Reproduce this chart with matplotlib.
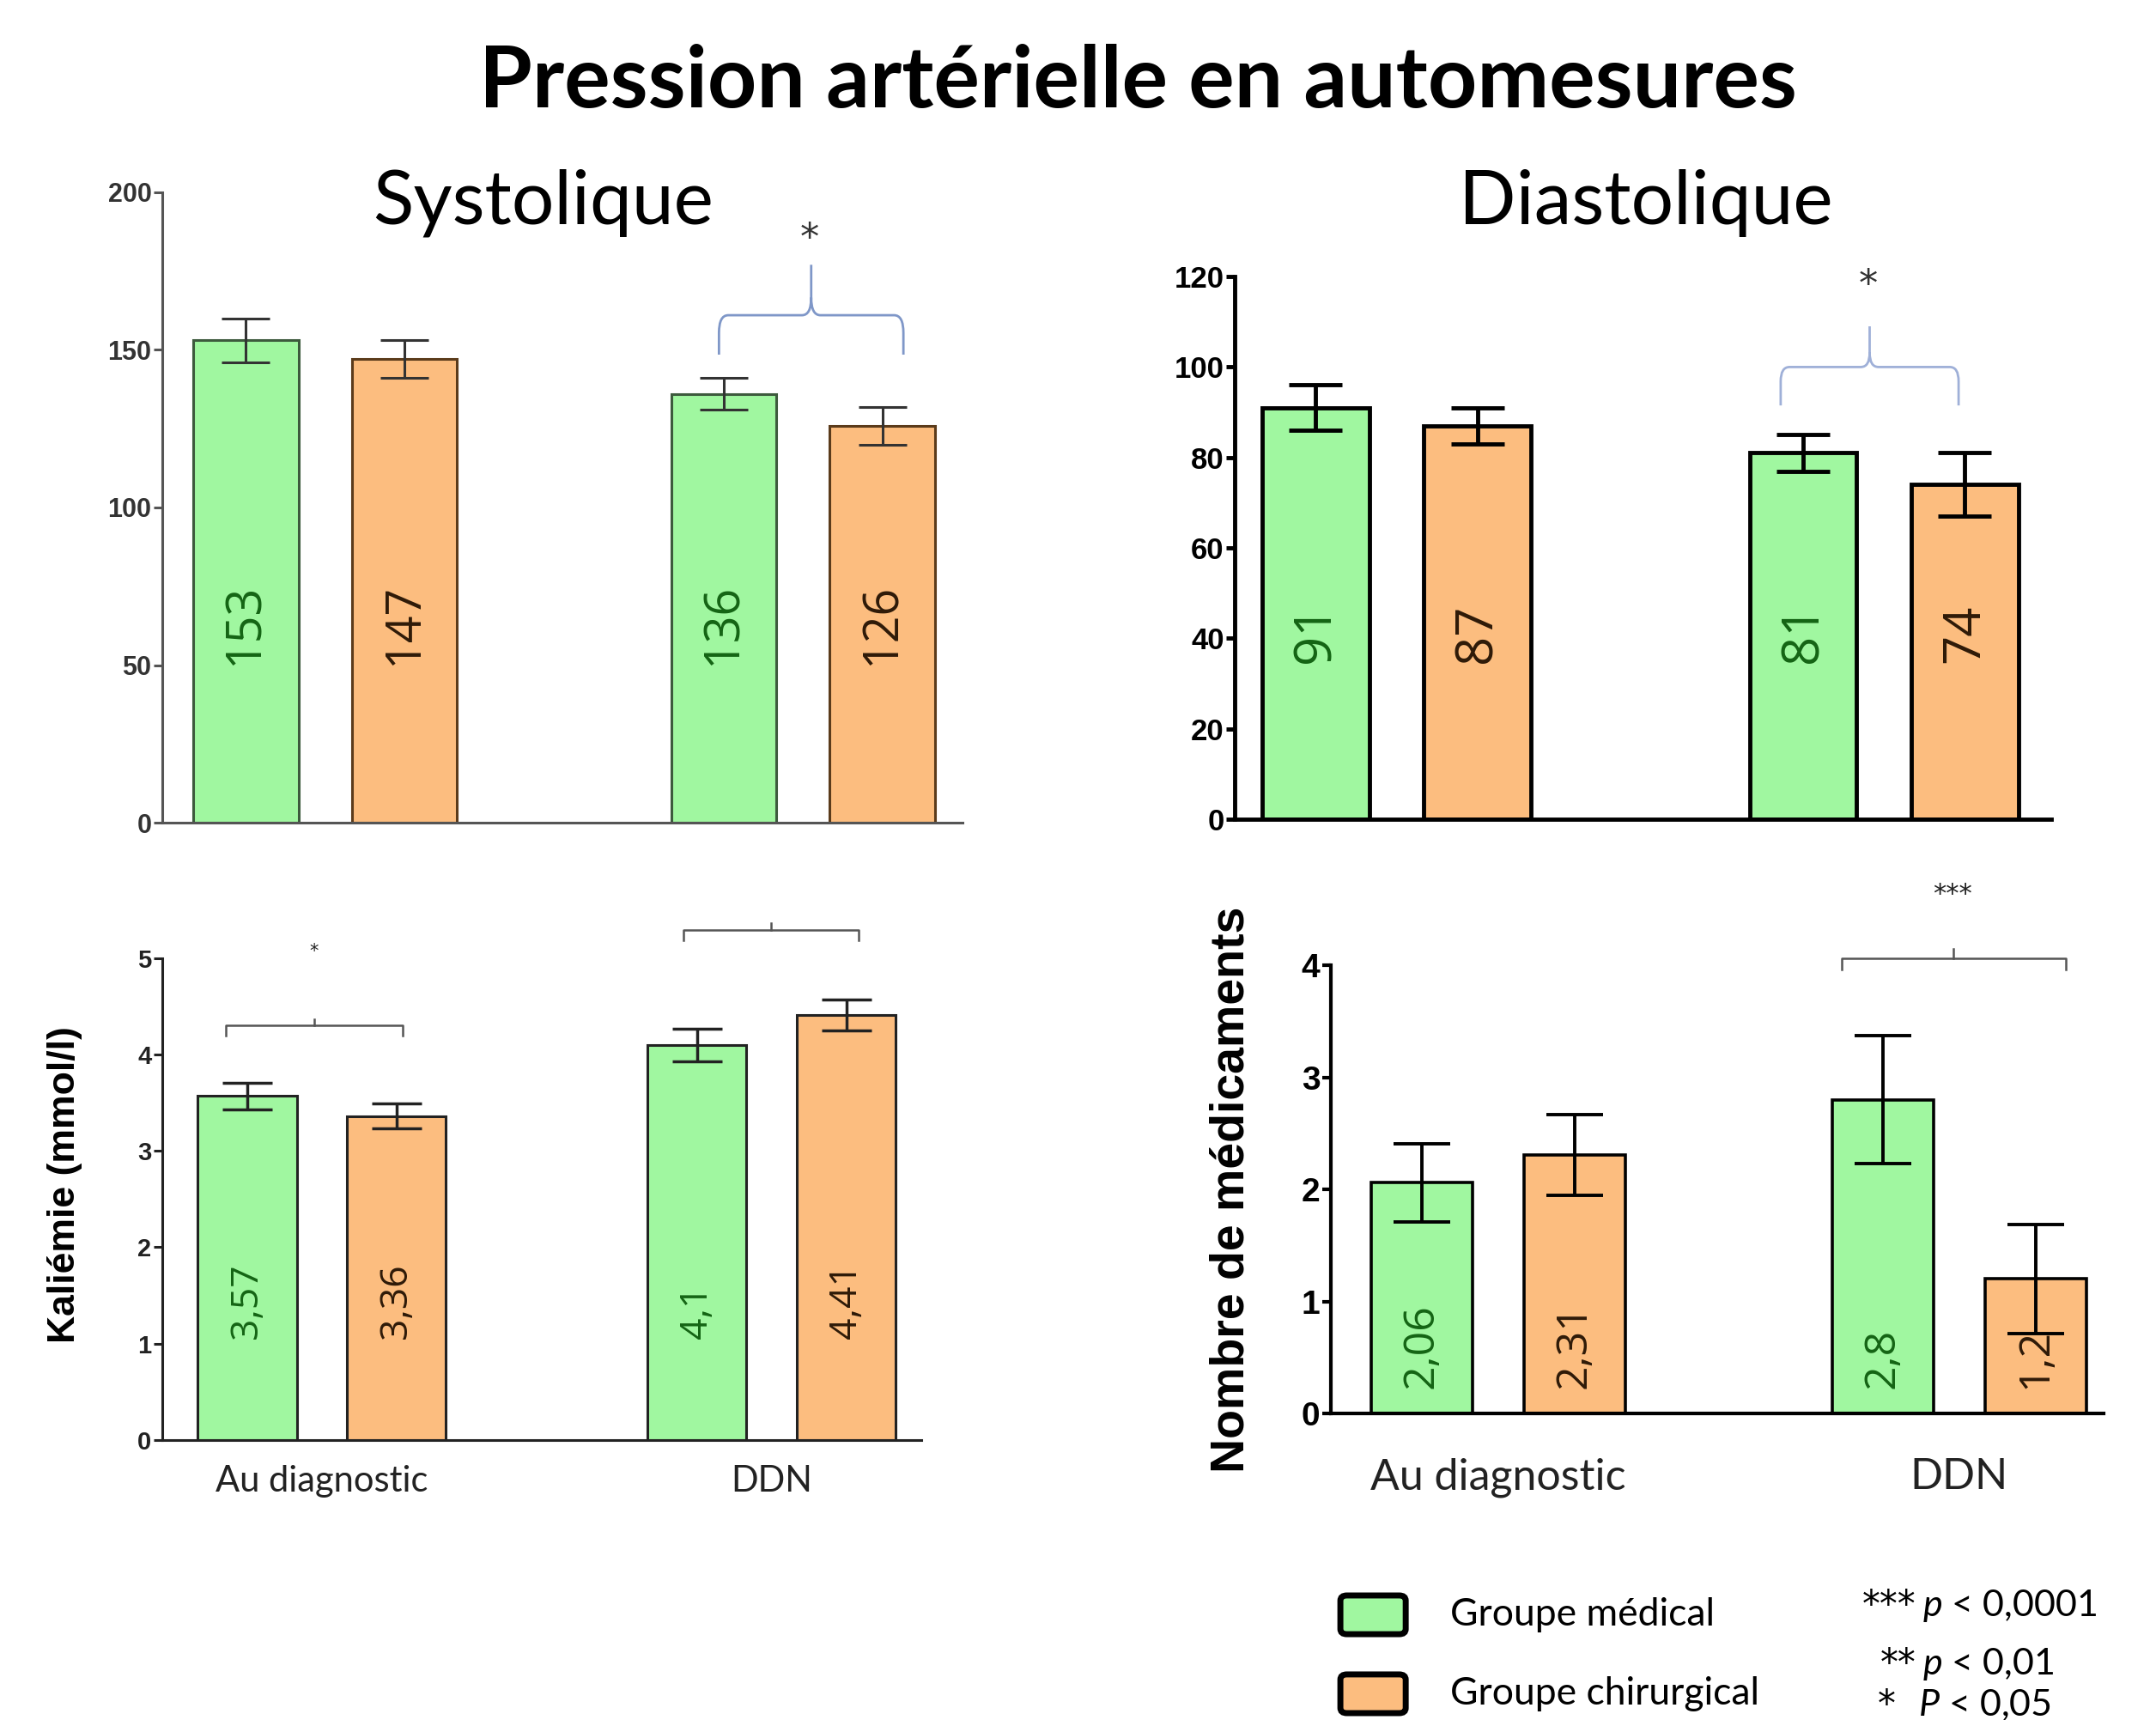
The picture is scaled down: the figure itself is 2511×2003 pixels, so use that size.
import numpy as np
import matplotlib
matplotlib.use('Agg')
import matplotlib.pyplot as plt
from matplotlib.path import Path
from matplotlib.patches import PathPatch, FancyBboxPatch

plt.rcParams['font.family'] = ['Lato', 'DejaVu Sans']
plt.rcParams['mathtext.fontset'] = 'custom'
plt.rcParams['mathtext.it'] = 'Lato:italic'
plt.rcParams['mathtext.rm'] = 'Lato'

# données
groupes = ['Au diagnostic', 'DDN']
series = ['Groupe médical', 'Groupe chirurgical']

sys_med = [153, 136]
sys_chir = [147, 126]
sys_err_med = [7, 5]
sys_err_chir = [6, 6]

dia_med = [91, 81]
dia_chir = [87, 74]
dia_err_med = [5, 4]
dia_err_chir = [4, 7]

kal_med = [3.57, 4.1]
kal_chir = [3.36, 4.41]
kal_err_med = [0.14, 0.17]
kal_err_chir = [0.13, 0.16]

nb_med = [2.06, 2.8]
nb_chir = [2.31, 1.2]
nb_err_med = [0.35, 0.57]
nb_err_chir = [0.36, 0.49]

p_etoiles = ['***', '**', '*']
p_textes = [r'$\mathit{p}$ < 0,0001', r'$\mathit{p}$ < 0,01', r'$\mathit{P}$ < 0,05']

VERT = '#a0f7a0'
ORANGE = '#fcbd7f'
TXT_VERT = '#146414'
TXT_ORANGE = '#2e1a08'
OFF = 0.166
W = 0.22
NARROW = ['Liberation Sans Narrow', 'Liberation Sans', 'DejaVu Sans']
ETOILE = ['DejaVu Sans']


def fmt(v):
    return ('%g' % v).replace('.', ',')


def panneau(ax, med, chir, err_med, err_chir, ylim, yticks, xlim, st):
    x = np.arange(len(groupes))
    for vals, errs, dx, fc, ec, tc in [(med, err_med, -OFF, VERT, st['ec_v'], TXT_VERT),
                                       (chir, err_chir, OFF, ORANGE, st['ec_o'], TXT_ORANGE)]:
        ax.bar(x + dx, vals, W, color=fc, edgecolor=ec, linewidth=st['blw'],
               yerr=errs, error_kw=dict(ecolor=st['ecol'], elinewidth=st['elw'],
                                        capsize=st['cap'], capthick=st['elw']))
        for xi, v in zip(x + dx, vals):
            ax.text(xi, st['lab_y'], fmt(v), rotation=90, ha='center', va='bottom',
                    fontsize=st['lab_fs'], color=tc, family=['Open Sans', 'DejaVu Sans'])
    ax.set_xlim(*xlim)
    ax.set_ylim(*ylim)
    ax.set_yticks(yticks)
    ax.set_xticks([])
    ax.spines['top'].set_visible(False)
    ax.spines['right'].set_visible(False)
    for s in ['left', 'bottom']:
        ax.spines[s].set_linewidth(st['slw'])
        ax.spines[s].set_color(st['scol'])
    ax.tick_params(axis='y', length=7, width=st['slw'], color=st['scol'],
                   labelsize=st['tick_fs'], labelcolor=st['tcol'], pad=2)
    for lab in ax.get_yticklabels():
        lab.set_fontweight('bold')
        lab.set_family(NARROW)
    ax.tick_params(axis='x', length=0)


def accolade(ax, x0, x1, yb, ym, yt, color, lw):
    xc = (x0 + x1) / 2
    r = (x1 - x0) * 0.05
    d = (yt - ym) * 0.35
    verts = [(x0, yb), (x0, ym - d), (x0, ym), (x0 + r, ym), (xc - r, ym), (xc, ym), (xc, ym + d), (xc, yt),
             (x1, yb), (x1, ym - d), (x1, ym), (x1 - r, ym), (xc + r, ym), (xc, ym), (xc, ym + d)]
    codes = [Path.MOVETO, Path.LINETO, Path.CURVE3, Path.CURVE3, Path.LINETO, Path.CURVE3, Path.CURVE3, Path.LINETO,
             Path.MOVETO, Path.LINETO, Path.CURVE3, Path.CURVE3, Path.LINETO, Path.CURVE3, Path.CURVE3]
    ax.add_patch(PathPatch(Path(verts, codes), fill=False, edgecolor=color, lw=lw, clip_on=False))


def crochet(ax, x0, x1, y, yb, yt, color, lw):
    xc = (x0 + x1) / 2
    ax.plot([x0, x0, x1, x1], [yb, y, y, yb], color=color, lw=lw, clip_on=False)
    ax.plot([xc, xc], [y, yt], color=color, lw=lw, clip_on=False)


fig = plt.figure(figsize=(25.11, 20.03), dpi=100)

# Systolique
ax1 = fig.add_axes([0.0753, 0.5217, 0.3712, 0.3665])
panneau(ax1, sys_med, sys_chir, sys_err_med, sys_err_chir, (0, 200), [0, 50, 100, 150, 200],
        (-0.341, 1.334),
        dict(ec_v='#3d5a3d', ec_o='#5b3b1b', blw=2.2, ecol='#333333', elw=2.2, cap=20,
             lab_y=50, lab_fs=40, slw=2.2, scol='#555555', tick_fs=22, tcol='#333333'))
accolade(ax1, 0.824, 1.21, 148.5, 161, 177, '#7f97c8', 2)
ax1.text(1.014, 185, '*', ha='center', va='center', fontsize=32, color='#333333', family=ETOILE)

# Diastolique
ax2 = fig.add_axes([0.5727, 0.5237, 0.3787, 0.3155])
panneau(ax2, dia_med, dia_chir, dia_err_med, dia_err_chir, (0, 120), [0, 20, 40, 60, 80, 100, 120],
        (-0.332, 1.343),
        dict(ec_v='black', ec_o='black', blw=3.5, ecol='black', elw=3.5, cap=22,
             lab_y=34.5, lab_fs=43, slw=3.5, scol='black', tick_fs=25, tcol='black'))
accolade(ax2, 0.788, 1.153, 91.5, 100, 109, '#9fb0d8', 2)
ax2.text(0.968, 118, '*', ha='center', va='center', fontsize=32, color='#333333', family=ETOILE)

# Kaliémie
ax3 = fig.add_axes([0.0753, 0.1628, 0.352, 0.2801])
panneau(ax3, kal_med, kal_chir, kal_err_med, kal_err_chir, (0, 5), [0, 1, 2, 3, 4, 5],
        (-0.355, 1.333),
        dict(ec_v='#222222', ec_o='#222222', blw=2.2, ecol='#222222', elw=2.5, cap=21,
             lab_y=1.05, lab_fs=32, slw=2.2, scol='#222222', tick_fs=21, tcol='#222222'))
ax3.set_xticks([0, 1])
ax3.set_xticklabels(groupes, fontsize=30, color='#222222')
ax3.tick_params(axis='x', pad=21)
ax3.set_ylabel('Kaliémie (mmol/l)', fontsize=32, fontweight='bold',
               family=['Liberation Sans', 'DejaVu Sans'])
ax3.yaxis.set_label_coords(-0.105, 0.53)
crochet(ax3, -0.214, 0.18, 4.30, 4.20, 4.37, '#555555', 1.8)
crochet(ax3, 0.804, 1.193, 5.29, 5.19, 5.36, '#555555', 1.8)
ax3.text(-0.018, 5.07, '*', ha='center', va='center', fontsize=15, color='#222222', family=ETOILE)

# Nombre de médicaments
ax4 = fig.add_axes([0.6173, 0.1782, 0.3584, 0.2606])
panneau(ax4, nb_med, nb_chir, nb_err_med, nb_err_chir, (0, 4), [0, 1, 2, 3, 4],
        (-0.363, 1.313),
        dict(ec_v='black', ec_o='black', blw=2.6, ecol='black', elw=2.8, cap=24,
             lab_y=0.22, lab_fs=36, slw=3, scol='black', tick_fs=28, tcol='black'))
ax4.set_xticks([0, 1])
ax4.set_xticklabels(groupes, fontsize=36, color='#222222')
ax4.tick_params(axis='x', pad=37)
ax4.set_ylabel('Nombre de médicaments', fontsize=40, fontweight='bold',
               family=['Liberation Sans', 'DejaVu Sans'])
ax4.yaxis.set_label_coords(-0.10, 0.5)
crochet(ax4, 0.745, 1.231, 4.06, 3.96, 4.15, '#555555', 1.8)
ax4.text(0.986, 4.63, '***', ha='center', va='center', fontsize=22, color='#222222', family=ETOILE)

# titres
fig.text(0.528, 0.952, 'Pression artérielle en automesures', ha='center', va='center',
         fontsize=72, fontweight='bold')
fig.text(0.252, 0.882, 'Systolique', ha='center', va='center', fontsize=63)
fig.text(0.7634, 0.882, 'Diastolique', ha='center', va='center', fontsize=63)

# légende
for (yb, fc), nom in zip([(0.0499, VERT), (0.004, ORANGE)], series):
    fig.patches.append(FancyBboxPatch((0.6217, yb), 0.0303, 0.0225,
                                      boxstyle='round,pad=0,rounding_size=0.003',
                                      transform=fig.transFigure, facecolor=fc,
                                      edgecolor='black', linewidth=5))
    fig.text(0.6726, yb + 0.0112, nom, ha='left', va='center', fontsize=32)

for et, t, (xe, xt, y) in zip(p_etoiles, p_textes,
                              [(0.8885, 0.8916, 0.0604), (0.8885, 0.8916, 0.0265), (0.879, 0.8897, 0.0025)]):
    fig.text(xe, y, et, ha='right', va='baseline', fontsize=30, family=ETOILE)
    fig.text(xt, y, t, ha='left', va='baseline', fontsize=31)

fig.savefig('out.png', dpi=100)
